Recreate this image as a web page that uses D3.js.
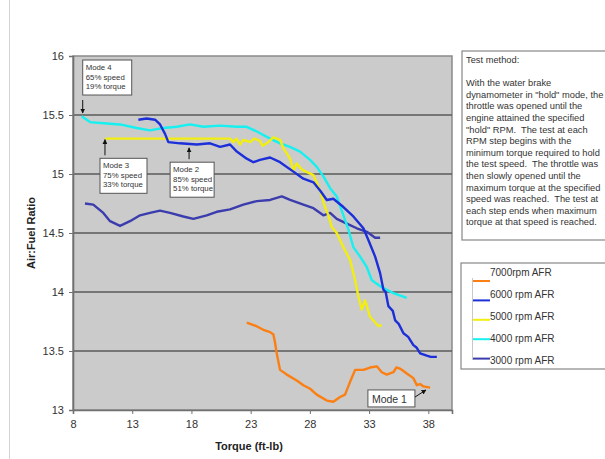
<!DOCTYPE html>
<html>
<head>
<meta charset="utf-8">
<script src="https://cdn.jsdelivr.net/npm/d3@7"></script>
<style>
  body { margin: 0; background: #fff; overflow: hidden; }
  svg { display: block; font-family: "Liberation Sans", Arial, sans-serif; }
  .note { white-space: pre; }
</style>
</head>
<body>
<svg></svg>
<script>
// series: [torque, AFR]
const afr7000 = [[22.67,13.74],[23.5,13.71],[24.07,13.68],[24.64,13.66],[24.92,13.64],[25.06,13.57],[25.2,13.48],
  [25.48,13.34],[26.05,13.30],[26.89,13.25],[27.45,13.21],[28.02,13.18],[28.58,13.13],[29.43,13.08],[29.98,13.07],
  [30.55,13.11],[30.97,13.13],[31.4,13.24],[31.82,13.34],[32.52,13.34],[33.08,13.36],[33.65,13.37],[34.07,13.32],
  [34.49,13.30],[35.05,13.32],[35.3,13.36],[35.62,13.35],[35.9,13.33],[36.18,13.31],[36.74,13.27],[37.03,13.21],
  [37.3,13.22],[37.59,13.20],[38.15,13.19]];
const afr6000 = [[13.52,15.46],[14.22,15.47],[14.93,15.46],[15.35,15.42],[15.77,15.34],[16.05,15.27],[17.04,15.26],
  [18.45,15.25],[19.57,15.26],[20.42,15.23],[21.26,15.25],[21.83,15.19],[22.67,15.13],[23.23,15.10],[23.79,15.12],
  [24.64,15.14],[25.48,15.10],[26.61,15.02],[27.45,14.96],[28.30,14.93],[28.86,14.86],[29.43,14.78],[29.98,14.79],
  [30.83,14.72],[31.67,14.64],[32.52,14.54],[32.94,14.44],[33.51,14.30],[33.93,14.16],[34.21,14.02],[34.4,14.0],
  [34.63,13.88],[35.0,13.84],[35.20,13.76],[35.5,13.73],[35.90,13.65],[36.3,13.62],[36.74,13.55],[37.0,13.53],
  [37.31,13.48],[37.87,13.46],[38.2,13.45],[38.72,13.45]];
const afr5000 = [[10.7,15.30],[21.26,15.30],[21.54,15.27],[21.8,15.30],[22.1,15.25],[22.4,15.29],[22.95,15.27],
  [23.3,15.30],[23.79,15.28],[24.0,15.24],[24.36,15.26],[24.92,15.31],[25.48,15.29],[25.76,15.22],[26.33,15.13],
  [26.61,15.03],[26.89,15.09],[27.2,15.05],[27.45,15.03],[28.30,14.99],[28.86,14.86],[29.28,14.72],[29.56,14.65],
  [29.85,14.55],[30.27,14.50],[30.83,14.38],[31.40,14.27],[31.82,14.10],[32.10,13.96],[32.38,13.85],[32.66,13.93],
  [33.08,13.79],[33.79,13.71],[34.07,13.72]];
const afr4000 = [[8.73,15.49],[9.44,15.44],[10.56,15.43],[11.97,15.42],[13.38,15.39],[14.50,15.37],[15.63,15.39],
  [16.76,15.40],[17.88,15.42],[19.0,15.40],[20.42,15.41],[21.83,15.40],[22.67,15.40],[23.52,15.36],[24.64,15.30],
  [25.48,15.26],[26.33,15.23],[27.17,15.19],[28.02,15.12],[28.58,15.06],[29.14,14.98],[29.71,14.88],[30.27,14.81],
  [30.69,14.69],[31.25,14.53],[31.67,14.38],[32.24,14.30],[32.81,14.21],[33.23,14.10],[34.07,14.04],[35.05,13.99],
  [36.18,13.95]];
const afr3000 = [[9.01,14.75],[9.71,14.74],[10.56,14.67],[11.13,14.60],[11.97,14.56],[12.81,14.60],[13.66,14.65],
  [14.50,14.67],[15.35,14.69],[16.19,14.67],[17.32,14.64],[18.16,14.62],[19.29,14.65],[20.14,14.68],[21.26,14.70],
  [22.38,14.74],[23.52,14.77],[24.64,14.78],[25.63,14.81],[26.33,14.78],[27.45,14.74],[28.30,14.71],[29.14,14.65],
  [29.71,14.67],[30.27,14.62],[31.12,14.58],[31.96,14.54],[32.81,14.51],[33.51,14.46],[33.93,14.46]];

const seriesNames = ["7000rpm AFR", "6000 rpm AFR", "5000 rpm AFR", "4000 rpm AFR", "3000 rpm AFR"];
const seriesData = [afr7000, afr6000, afr5000, afr4000, afr3000];
const seriesColors = ["#fb7f12", "#1c2fd8", "#f2ee10", "#17f0f0", "#3b3cad"];

const xTicks = [8, 13, 18, 23, 28, 33, 38];
const yTicks = [13, 13.5, 14, 14.5, 15, 15.5, 16];

const noteLines = ["Test method:", "", "With the water brake", "dynamometer in \"hold\" mode, the",
  "throttle was opened until the", "engine attained the specified", "\"hold\" RPM.  The test at each",
  "RPM step begins with the", "minimum torque required to hold", "the test speed.  The throttle was",
  "then slowly opened until the", "maximum torque at the specified", "speed was reached.  The test at",
  "each step ends when maximum", "torque at that speed is reached."];

// mode callouts: label lines, box corner in data units, arrow target
const modes = [
  { lines: ["Mode 4", "65% speed", "19% torque"], x: 8.82, y: 15.966, tx: 8.82, ty: 15.5 },
  { lines: ["Mode 3", "75% speed", "33% torque"], x: 10.28, y: 15.133, tx: 10.7, ty: 15.3 },
  { lines: ["Mode 2", "85% speed", "51% torque"], x: 16.2, y: 15.10, tx: 17.8, ty: 15.23 }
];

const width = 605, height = 459;
const margin = { left: 73, right: 153, top: 56, bottom: 49 };

const svg = d3.select("svg").attr("width", width).attr("height", height);

const x = d3.scaleLinear().domain([8, 40]).range([margin.left, width - margin.right]);
const y = d3.scaleLinear().domain([13, 16]).range([height - margin.bottom, margin.top]);

svg.append("defs").append("marker")
  .attr("id", "arr").attr("viewBox", "0 0 10 10").attr("refX", 9).attr("refY", 5)
  .attr("markerWidth", 5).attr("markerHeight", 5).attr("orient", "auto")
  .append("path").attr("d", "M0,0L10,5L0,10z").attr("fill", "#111");

// thin frame line on the left of the page
svg.append("line").attr("x1", 9.5).attr("x2", 9.5).attr("y1", 0).attr("y2", height)
  .attr("stroke", "#d4d4d4");

// plot area
svg.append("rect")
  .attr("x", x(8)).attr("y", y(16))
  .attr("width", x(40) - x(8)).attr("height", y(13) - y(16))
  .attr("fill", "#cbcbcb").attr("stroke", "#8a8a8a").attr("stroke-width", 1.5);

svg.append("g").selectAll("line").data(yTicks.filter(d => d > 13 && d < 16)).enter()
  .append("line")
  .attr("x1", x(8)).attr("x2", x(40))
  .attr("y1", d => y(d)).attr("y2", d => y(d))
  .attr("stroke", "#5a5a5a").attr("stroke-width", 1.6);

const yAxis = svg.append("g")
  .attr("transform", `translate(${x(8)},0)`)
  .call(d3.axisLeft(y).tickValues(yTicks).tickSize(4).tickPadding(5).tickFormat(d3.format("")));
const xAxis = svg.append("g")
  .attr("transform", `translate(0,${y(13)})`)
  .call(d3.axisBottom(x).tickValues(xTicks).tickSize(4).tickPadding(6));
[xAxis, yAxis].forEach(a => {
  a.select(".domain").attr("stroke", "#707070").attr("stroke-width", 1.6);
  a.selectAll(".tick line").attr("stroke", "#707070");
  a.selectAll(".tick text").attr("fill", "#333").attr("font-size", 11)
    .attr("font-family", "Liberation Sans, Arial, sans-serif");
});

svg.append("text")
  .attr("transform", `translate(35,${(y(13) + y(16)) / 2}) rotate(-90)`)
  .attr("text-anchor", "middle").attr("font-size", 11).attr("font-weight", "bold").attr("fill", "#222")
  .text("Air:Fuel Ratio");
svg.append("text")
  .attr("x", 249).attr("y", 450)
  .attr("text-anchor", "middle").attr("font-size", 11).attr("font-weight", "bold").attr("fill", "#222")
  .text("Torque (ft-lb)");

// series lines
const line = d3.line().x(d => x(d[0])).y(d => y(d[1]));
svg.append("g").selectAll("path").data(seriesData.slice().reverse()).enter()
  .append("path")
  .attr("d", line)
  .attr("fill", "none")
  .attr("stroke", (d, i) => seriesColors[seriesData.length - 1 - i])
  .attr("stroke-width", 2.4)
  .attr("stroke-linejoin", "round");

// mode callouts
modes.forEach((m, i) => {
  const g = svg.append("g");
  const bx = x(m.x), by = y(m.y);
  const bw = i === 0 ? 49 : (i === 1 ? 47 : 44), bh = 35;
  g.append("rect").attr("x", bx).attr("y", by).attr("width", bw).attr("height", bh)
    .attr("fill", "#fff").attr("stroke", "#555").attr("stroke-width", 1);
  m.lines.forEach((t, j) => {
    g.append("text").attr("x", bx + 3).attr("y", by + 10 + j * 9.5)
      .attr("font-size", 7.8).attr("fill", "#333").text(t);
  });
  const ax = x(m.tx);
  const startY = i === 0 ? by + bh + 5 : by - 3;
  g.append("line").attr("x1", ax).attr("x2", ax)
    .attr("y1", startY).attr("y2", i === 0 ? y(m.ty) - 2 : y(m.ty) + 1)
    .attr("stroke", "#111").attr("stroke-width", 1).attr("marker-end", "url(#arr)");
});

// Mode 1 callout
svg.append("rect").attr("x", x(32.9)).attr("y", y(13.17))
  .attr("width", 47).attr("height", 17)
  .attr("fill", "#fff").attr("stroke", "#555");
svg.append("text").attr("x", x(32.9) + 4).attr("y", y(13.17) + 13)
  .attr("font-size", 10.5).attr("fill", "#333").text("Mode 1");
svg.append("line").attr("x1", x(36.88)).attr("y1", y(13.11))
  .attr("x2", x(37.8)).attr("y2", y(13.17))
  .attr("stroke", "#111").attr("stroke-width", 1).attr("marker-end", "url(#arr)");

// test method note
svg.append("rect").attr("x", 462).attr("y", 51).attr("width", 160).attr("height", 189)
  .attr("fill", "#fff").attr("stroke", "#888").attr("stroke-width", 1.2);
svg.append("g").selectAll("text").data(noteLines).enter()
  .append("text")
  .attr("class", "note")
  .attr("x", 466).attr("y", (d, i) => 63 + i * 11.6)
  .attr("font-size", 9.3).attr("fill", "#333")
  .text(d => d);

// legend
svg.append("rect").attr("x", 461).attr("y", 263).attr("width", 160).attr("height", 106)
  .attr("fill", "#fff").attr("stroke", "#888").attr("stroke-width", 1.2);
svg.append("line").attr("x1", 472.5).attr("x2", 472.5).attr("y1", 278).attr("y2", 360)
  .attr("stroke", "#c8c8c8");
const leg = svg.append("g").selectAll("g").data(seriesNames).enter().append("g");
leg.append("line")
  .attr("x1", 473).attr("x2", 490)
  .attr("y1", (d, i) => 281 + i * 19.4).attr("y2", (d, i) => 281 + i * 19.4)
  .attr("stroke", (d, i) => seriesColors[i]).attr("stroke-width", 2);
leg.append("text")
  .attr("x", 490)
  .attr("y", (d, i) => 275.5 + i * 22)
  .attr("font-size", 10).attr("fill", "#333")
  .text(d => d);
</script>
</body>
</html>
